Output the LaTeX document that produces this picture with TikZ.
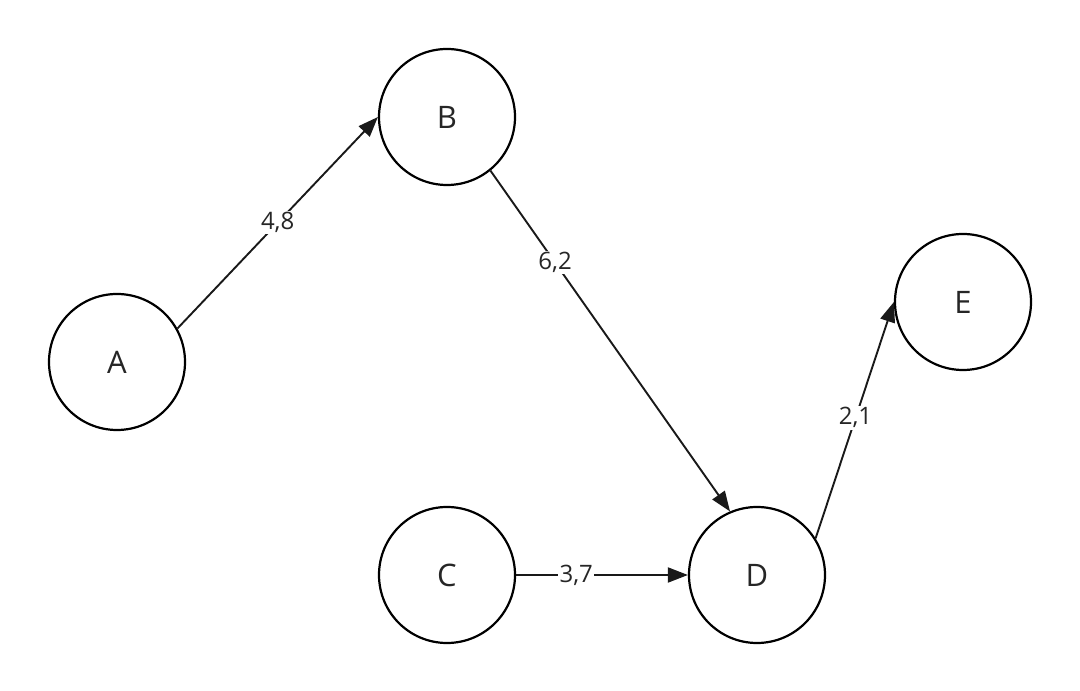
\documentclass[tikz,border=0pt]{standalone}
\usepackage{fontspec}
\setmainfont{Open Sans}
\usetikzlibrary{positioning,arrows.meta}

\begin{document}
\begin{tikzpicture}[>={Triangle[length=20bp,width=15bp]},line join=bevel,
  vertex/.style={draw,circle,line width=2.2bp,minimum size=136bp,inner sep=0pt,text=black!85,font=\fontsize{31bp}{34bp}\selectfont},
  weight/.style={fill=white,inner sep=1.5bp,text=black!85,font=\fontsize{24bp}{27bp}\selectfont},
  edge/.style={black!90,->,line width=1.9bp}]
\useasboundingbox (0bp,0bp) rectangle (1080bp,691bp);
%%
\node (A) at (117bp,329bp) [vertex] {A};
  \node (B) at (447bp,574bp) [vertex] {B};
  \node (C) at (447bp,116bp) [vertex] {C};
  \node (D) at (757bp,116bp) [vertex] {D};
  \node (E) at (963bp,389bp) [vertex] {E};
  \draw [edge] (A.29) -- node[weight,pos=0.5] {4,8} (B.west);
  \draw [edge] (B.-51) -- node[weight,pos=0.27] {6,2} (D.113);
  \draw [edge] (C.east) -- node[weight,pos=0.35] {3,7} (D.west);
  \draw [edge] (D.32) -- node[weight,pos=0.51] {2,1} (E.west);
%
\end{tikzpicture}
\end{document}
